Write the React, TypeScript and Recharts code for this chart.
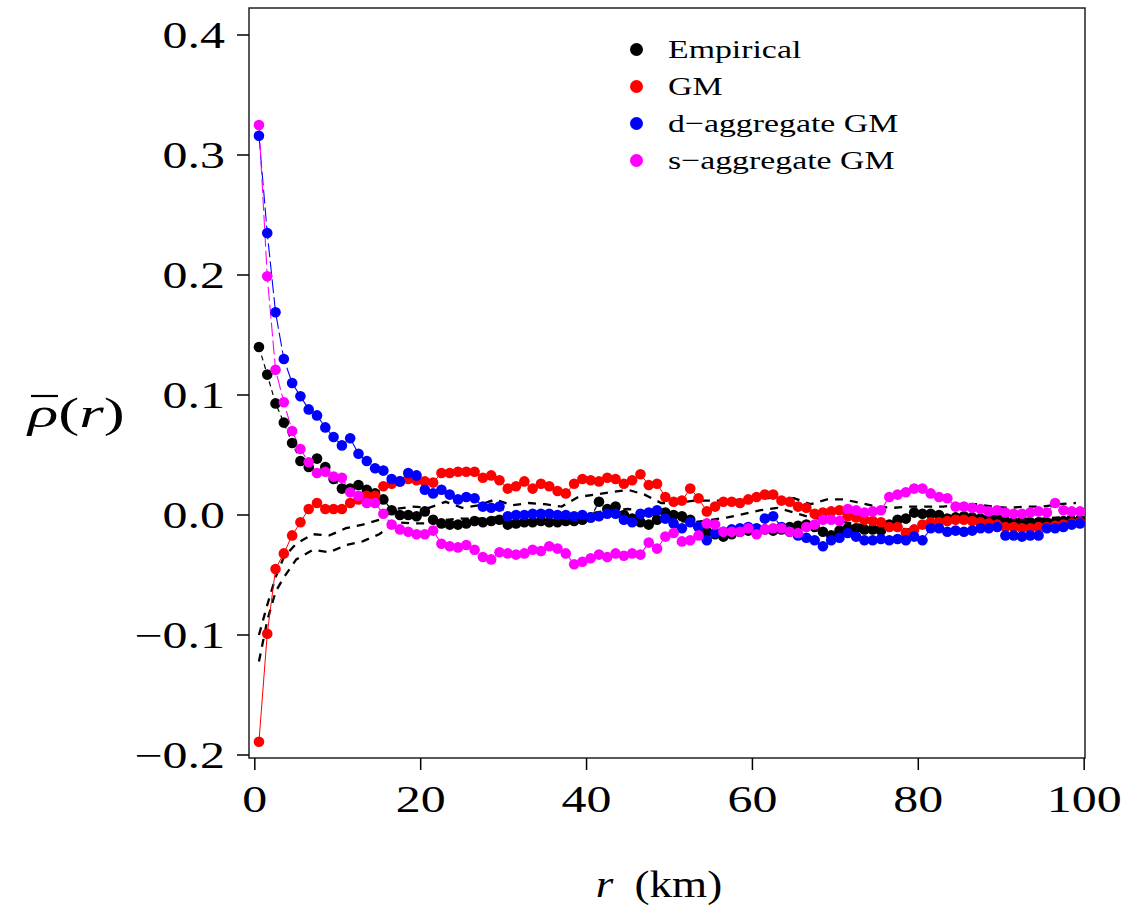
import React from 'react';
import { ComposedChart, Line, XAxis, YAxis, ReferenceArea, Legend } from 'recharts';

const rValues = [
  0.5, 1.5, 2.5, 3.5, 4.5, 5.5, 6.5, 7.5, 8.5, 9.5,
  10.5, 11.5, 12.5, 13.5, 14.5, 15.5, 16.5, 17.5, 18.5, 19.5,
  20.5, 21.5, 22.5, 23.5, 24.5, 25.5, 26.5, 27.5, 28.5, 29.5,
  30.5, 31.5, 32.5, 33.5, 34.5, 35.5, 36.5, 37.5, 38.5, 39.5,
  40.5, 41.5, 42.5, 43.5, 44.5, 45.5, 46.5, 47.5, 48.5, 49.5,
  50.5, 51.5, 52.5, 53.5, 54.5, 55.5, 56.5, 57.5, 58.5, 59.5,
  60.5, 61.5, 62.5, 63.5, 64.5, 65.5, 66.5, 67.5, 68.5, 69.5,
  70.5, 71.5, 72.5, 73.5, 74.5, 75.5, 76.5, 77.5, 78.5, 79.5,
  80.5, 81.5, 82.5, 83.5, 84.5, 85.5, 86.5, 87.5, 88.5, 89.5,
  90.5, 91.5, 92.5, 93.5, 94.5, 95.5, 96.5, 97.5, 98.5, 99.5,
];

const empirical = [
  0.140, 0.117, 0.093, 0.077, 0.060, 0.045, 0.040, 0.047, 0.040, 0.030,
  0.022, 0.022, 0.025, 0.021, 0.018, 0.013, 0.004, 0.000, 0.000, -0.001,
  0.003, -0.004, -0.007, -0.008, -0.008, -0.007, -0.005, -0.006, -0.005, -0.004,
  -0.008, -0.007, -0.006, -0.006, -0.005, -0.006, -0.006, -0.005, -0.005, -0.004,
  -0.002, 0.011, 0.005, 0.007, 0.000, -0.003, -0.006, -0.008, -0.004, 0.002,
  0.000, -0.001, -0.004, -0.010, -0.014, -0.016, -0.018, -0.016, -0.014, -0.013,
  -0.012, -0.012, -0.013, -0.012, -0.010, -0.009, -0.008, -0.010, -0.014, -0.017,
  -0.013, -0.011, -0.011, -0.012, -0.012, -0.013, -0.008, -0.004, -0.003, 0.002,
  0.001, 0.001, 0.000, -0.003, -0.002, -0.001, -0.002, -0.003, -0.003, -0.003,
  -0.005, -0.006, -0.005, -0.006, -0.006, -0.006, -0.006, -0.005, -0.005, -0.004,
];

const gm = [
  -0.189, -0.099, -0.045, -0.032, -0.017, -0.006, 0.005, 0.010, 0.005, 0.005,
  0.005, 0.010, 0.013, 0.016, 0.016, 0.024, 0.026, 0.028, 0.030, 0.029,
  0.028, 0.027, 0.035, 0.035, 0.036, 0.036, 0.036, 0.031, 0.033, 0.029,
  0.022, 0.024, 0.028, 0.022, 0.026, 0.024, 0.020, 0.018, 0.026, 0.030,
  0.029, 0.028, 0.031, 0.030, 0.026, 0.029, 0.034, 0.025, 0.026, 0.015,
  0.011, 0.012, 0.022, 0.014, 0.003, 0.007, 0.011, 0.011, 0.010, 0.013,
  0.015, 0.017, 0.017, 0.012, 0.011, 0.007, 0.006, 0.001, 0.002, 0.003,
  0.004, -0.001, -0.002, -0.004, -0.005, -0.006, -0.010, -0.010, -0.015, -0.012,
  -0.008, -0.006, -0.006, -0.005, -0.004, -0.004, -0.005, -0.006, -0.007, -0.008,
  -0.010, -0.010, -0.011, -0.011, -0.010, -0.010, -0.009, -0.008, -0.007, -0.006,
];

const dAggregate = [
  0.316, 0.235, 0.169, 0.130, 0.110, 0.099, 0.088, 0.083, 0.073, 0.065,
  0.058, 0.064, 0.051, 0.045, 0.039, 0.037, 0.030, 0.028, 0.035, 0.033,
  0.021, 0.018, 0.021, 0.017, 0.013, 0.015, 0.014, 0.007, 0.006, 0.007,
  -0.001, 0.000, 0.000, 0.001, 0.001, 0.001, 0.000, 0.000, -0.001, 0.000,
  -0.002, -0.001, 0.001, 0.001, -0.004, -0.006, 0.001, 0.002, 0.004, -0.003,
  -0.007, -0.011, -0.006, -0.010, -0.021, -0.015, -0.014, -0.012, -0.011, -0.010,
  -0.011, -0.003, -0.001, -0.010, -0.014, -0.017, -0.019, -0.021, -0.026, -0.021,
  -0.019, -0.015, -0.018, -0.021, -0.021, -0.020, -0.021, -0.020, -0.021, -0.018,
  -0.021, -0.011, -0.011, -0.014, -0.013, -0.014, -0.013, -0.011, -0.011, -0.010,
  -0.017, -0.017, -0.018, -0.017, -0.017, -0.011, -0.011, -0.010, -0.008, -0.007,
];

const sAggregate = [
  0.325, 0.199, 0.121, 0.094, 0.070, 0.055, 0.044, 0.035, 0.036, 0.032,
  0.031, 0.019, 0.016, 0.010, 0.010, 0.001, -0.008, -0.012, -0.014, -0.016,
  -0.016, -0.013, -0.024, -0.026, -0.027, -0.025, -0.029, -0.035, -0.037, -0.031,
  -0.032, -0.033, -0.032, -0.029, -0.030, -0.026, -0.028, -0.032, -0.041, -0.039,
  -0.036, -0.033, -0.035, -0.032, -0.034, -0.032, -0.033, -0.023, -0.028, -0.018,
  -0.015, -0.022, -0.021, -0.017, -0.007, -0.008, -0.014, -0.014, -0.014, -0.011,
  -0.016, -0.012, -0.011, -0.011, -0.014, -0.015, -0.010, -0.008, -0.004, -0.004,
  -0.005, 0.005, 0.004, 0.002, 0.003, 0.004, 0.015, 0.017, 0.019, 0.022,
  0.022, 0.018, 0.015, 0.014, 0.007, 0.007, 0.006, 0.005, 0.003, 0.004,
  0.002, 0.001, 0.001, 0.002, 0.003, 0.002, 0.010, 0.004, 0.003, 0.003,
];

const envR = [
  0.5, 1.5, 2.5, 3.5, 5, 7, 9, 11, 13, 15, 17, 19, 21, 23, 25, 27, 29, 31, 33, 35,
  37, 39, 41, 43, 45, 47, 49, 51, 53, 55, 57, 59, 61, 63, 65, 67, 69, 71, 73, 75,
  77, 79, 81, 83, 85, 87, 89, 91, 93, 95, 97, 99,
];
const envUpper = [
  -0.100, -0.075, -0.052, -0.035, -0.024, -0.016, -0.017, -0.011, -0.008, -0.004,
  0.005, 0.007, 0.006, 0.011, 0.006, 0.008, 0.013, 0.008, 0.010, 0.009,
  0.007, 0.015, 0.017, 0.019, 0.021, 0.017, 0.010, 0.010, 0.012, 0.012,
  0.012, 0.013, 0.014, 0.014, 0.014, 0.009, 0.013, 0.013, 0.010, 0.007,
  0.006, 0.007, 0.007, 0.007, 0.009, 0.009, 0.007, 0.006, 0.007, 0.007,
  0.009, 0.010,
];
const envLower = [
  -0.122, -0.088, -0.064, -0.052, -0.037, -0.029, -0.031, -0.025, -0.022, -0.016,
  -0.006, -0.007, -0.007, -0.004, -0.003, -0.003, -0.002, -0.005, -0.004, -0.005,
  -0.006, 0.000, 0.002, 0.004, 0.005, 0.003, -0.003, -0.005, -0.006, -0.004,
  -0.002, 0.001, 0.004, 0.006, 0.002, -0.002, -0.004, -0.006, -0.008, -0.010,
  -0.011, -0.012, -0.009, -0.006, -0.005, -0.005, -0.004, -0.004, -0.003, -0.003,
  -0.002, -0.001,
];

const xTicks = [0, 20, 40, 60, 80, 100];
const yTicks = [-0.2, -0.1, 0.0, 0.1, 0.2, 0.3, 0.4];

const legendNames = ['Empirical', 'GM', 'd\u2212aggregate GM', 's\u2212aggregate GM'];
const legendColors = ['#000000', '#ff0000', '#0000ff', '#ff00ff'];

const data = rValues.map((r, i) => ({
  r,
  emp: empirical[i],
  gm: gm[i],
  dagg: dAggregate[i],
  sagg: sAggregate[i],
}));
const envData = envR.map((r, i) => ({ r, hi: envUpper[i], lo: envLower[i] }));

const FONT = '"Liberation Serif", "Times New Roman", serif';
const SX = 1.35;

const fmt = (v: number) => {
  const s = Math.abs(v).toFixed(1);
  return v < -1e-9 ? '\u2212' + s : s;
};

const YTick = (props: any) => {
  const { x, y, payload } = props;
  return (
    <g transform={`translate(${x},${y}) scale(${SX},1)`}>
      <text x={0} y={0} dy="0.35em" textAnchor="end" fontSize={37} fontFamily={FONT} fill="#000">
        {fmt(payload.value)}
      </text>
    </g>
  );
};

const XTick = (props: any) => {
  const { x, y, payload } = props;
  return (
    <g transform={`translate(${x},${y}) scale(${SX},1)`}>
      <text x={0} y={0} dy="0.71em" textAnchor="middle" fontSize={37} fontFamily={FONT} fill="#000">
        {payload.value}
      </text>
    </g>
  );
};

const XLabel = (props: any) => {
  const vb = props.viewBox || { x: 0, y: 0, width: 0 };
  const cx = vb.x + vb.width / 2 - 8;
  const y = vb.y + 139;
  return (
    <g transform={`translate(${cx},${y}) scale(1.22,1)`}>
      <text x={0} y={0} textAnchor="middle" fontSize={37} fontFamily={FONT} fill="#000">
        <tspan fontStyle="italic">r</tspan>
        <tspan dx={8}> (km)</tspan>
      </text>
    </g>
  );
};

const YLabel = (props: any) => {
  const vb = props.viewBox || { x: 0, y: 0 };
  const x = vb.x + 28;
  const y = vb.y + 419;
  return (
    <g transform={`translate(${x},${y}) scale(1.5,1)`}>
      <line x1={2} x2={20} y1={-31} y2={-31} stroke="#000" strokeWidth={2.2} />
      <text x={0} y={0} textAnchor="start" fontSize={42} fontFamily={FONT} fill="#000">
        <tspan fontStyle="italic">{'\u03c1'}</tspan>
        <tspan>(</tspan>
        <tspan fontStyle="italic">r</tspan>
        <tspan>)</tspan>
      </text>
    </g>
  );
};

const renderLegend = () => (
  <div style={{ fontFamily: FONT, fontSize: 26, color: '#000' }}>
    {legendNames.map((n, i) => (
      <div key={n} style={{ display: 'flex', alignItems: 'center', height: 37 }}>
        <span
          style={{
            width: 13,
            height: 13,
            borderRadius: '50%',
            background: legendColors[i],
            display: 'inline-block',
            marginRight: 25,
          }}
        />
        <span
          style={{
            display: 'inline-block',
            transform: `scaleX(1.3)`,
            transformOrigin: 'left center',
            whiteSpace: 'nowrap',
          }}
        >
          {n}
        </span>
      </div>
    ))}
  </div>
);

const X_DOMAIN: [number, number] = [-0.7, 100.1];
const Y_DOMAIN: [number, number] = [-0.2025, 0.4225];

const dotStyle = (c: string) => ({ r: 5.3, fill: c, stroke: 'none', strokeWidth: 0 });

export default function App() {
  return (
    <div style={{ position: 'absolute', left: 0, top: 0, width: 1125, height: 918, background: '#fff' }}>
      <ComposedChart
        width={1125}
        height={918}
        data={data}
        margin={{ top: 8, right: 40, bottom: 0, left: 0 }}
      >
        <XAxis
          dataKey="r"
          type="number"
          domain={X_DOMAIN}
          ticks={xTicks}
          allowDataOverflow
          height={160}
          axisLine={false}
          tickLine={{ stroke: '#000', strokeWidth: 1.5 }}
          tickSize={12}
          tickMargin={16}
          tick={<XTick />}
          label={<XLabel />}
        />
        <YAxis
          type="number"
          domain={Y_DOMAIN}
          ticks={yTicks}
          allowDataOverflow
          width={249}
          axisLine={false}
          tickLine={{ stroke: '#000', strokeWidth: 1.5 }}
          tickSize={12}
          tickMargin={12}
          tick={<YTick />}
          label={<YLabel />}
        />
        <ReferenceArea
          x1={X_DOMAIN[0]}
          x2={X_DOMAIN[1]}
          y1={Y_DOMAIN[0]}
          y2={Y_DOMAIN[1]}
          fill="none"
          stroke="#222"
          strokeWidth={1.5}
          ifOverflow="visible"
        />
        <Line
          data={envData}
          dataKey="hi"
          type="linear"
          stroke="#000"
          strokeWidth={2.3}
          strokeDasharray="8 7"
          dot={false}
          activeDot={false}
          isAnimationActive={false}
        />
        <Line
          data={envData}
          dataKey="lo"
          type="linear"
          stroke="#000"
          strokeWidth={2.3}
          strokeDasharray="8 7"
          dot={false}
          activeDot={false}
          isAnimationActive={false}
        />
        <Line
          dataKey="emp"
          type="linear"
          stroke="#000"
          strokeWidth={1.2}
          strokeDasharray="5 4"
          dot={dotStyle('#000000')}
          activeDot={false}
          isAnimationActive={false}
        />
        <Line
          dataKey="gm"
          type="linear"
          stroke="#ff0000"
          strokeWidth={1}
          dot={dotStyle('#ff0000')}
          activeDot={false}
          isAnimationActive={false}
        />
        <Line
          dataKey="dagg"
          type="linear"
          stroke="#0000ff"
          strokeWidth={1.1}
          strokeDasharray="14 4"
          dot={dotStyle('#0000ff')}
          activeDot={false}
          isAnimationActive={false}
        />
        <Line
          dataKey="sagg"
          type="linear"
          stroke="#ff00ff"
          strokeWidth={1.1}
          strokeDasharray="14 4"
          dot={dotStyle('#ff00ff')}
          activeDot={false}
          isAnimationActive={false}
        />
        <Legend
          layout="vertical"
          align="center"
          verticalAlign="middle"
          content={renderLegend}
          wrapperStyle={{ left: 630, top: 31, width: 320, height: 150 }}
        />
      </ComposedChart>
    </div>
  );
}
